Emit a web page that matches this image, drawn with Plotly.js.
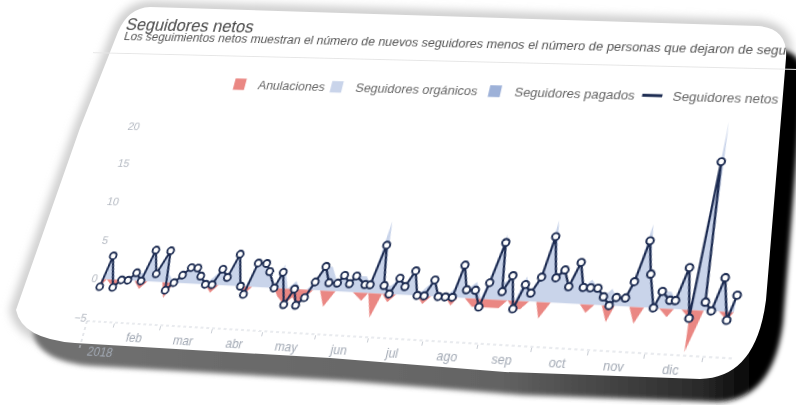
<!DOCTYPE html>
<html>
<head>
<meta charset="utf-8">
<script src="https://cdn.plot.ly/plotly-3.0.1.min.js"></script>
<style>
html,body{margin:0;padding:0;width:796px;height:405px;overflow:hidden;background:#ffffff;}
#card{position:absolute;left:0;top:0;}
#wrap{position:absolute;left:0;top:0;width:820px;height:430px;transform-origin:0 0;}
#chart{width:820px;height:430px;}
</style>
</head>
<body>
<svg id="card" width="796" height="405">
  <defs>
    <linearGradient id="sh" x1="0" y1="0" x2="796" y2="0" gradientUnits="userSpaceOnUse">
      <stop offset="0" stop-color="#717171"/>
      <stop offset="0.6" stop-color="#646464"/>
      <stop offset="0.86" stop-color="#2a2a2a"/>
      <stop offset="0.93" stop-color="#000000"/>
      <stop offset="1" stop-color="#000000"/>
    </linearGradient>
    <filter id="b1" x="-10%" y="-10%" width="125%" height="135%"><feGaussianBlur stdDeviation="2.5"/></filter>
    <filter id="b2" x="-10%" y="-10%" width="125%" height="135%"><feGaussianBlur stdDeviation="4"/></filter>
  </defs>
  <path id="halo" fill="none" stroke="#cdcdcd" stroke-width="12" filter="url(#b2)"/>
  <path id="shadow" fill="url(#sh)" filter="url(#b1)" transform="translate(17,23)"/>
  <path id="face" fill="#ffffff"/>
</svg>
<div id="wrap"><div id="chart"></div></div>
<script>
// ---- data ----
const fechas = [
'2018-01-17','2018-01-20','2018-01-25','2018-01-29','2018-02-02','2018-02-06','2018-02-10','2018-02-14','2018-02-18','2018-02-23',
'2018-02-26','2018-03-02','2018-03-06','2018-03-10','2018-03-14','2018-03-17','2018-03-21','2018-03-25','2018-03-29','2018-04-02',
'2018-04-06','2018-04-11','2018-04-14','2018-04-18','2018-04-23','2018-04-26','2018-05-01','2018-05-04','2018-05-09','2018-05-13',
'2018-05-16','2018-05-20','2018-05-24','2018-05-28','2018-06-01','2018-06-06','2018-06-09','2018-06-13','2018-06-16','2018-06-22',
'2018-06-25','2018-06-29','2018-07-03','2018-07-07','2018-07-11','2018-07-15','2018-07-19','2018-07-23','2018-07-27','2018-07-31',
'2018-08-04','2018-08-08','2018-08-12','2018-08-15','2018-08-19','2018-08-24','2018-08-28','2018-08-31','2018-09-04','2018-09-08',
'2018-09-12','2018-09-16','2018-09-20','2018-09-24','2018-09-28','2018-10-01','2018-10-06','2018-10-10','2018-10-14','2018-10-18',
'2018-10-22','2018-10-26','2018-10-30','2018-11-03','2018-11-07','2018-11-10','2018-11-15','2018-11-18','2018-11-22','2018-11-26',
'2018-12-01','2018-12-04','2018-12-09','2018-12-12','2018-12-16','2018-12-21','2018-12-22','2018-12-28','2019-01-01','2019-01-05',
'2019-01-10','2019-01-13'];

const seguidoresNetos = [
-1,3,-1,0,0,1,0,4,1,4,
-1,0,1,2,2,1,0,0,2,1,
4,0,-1,3,3,2,0,2,-2,0,
-2,-1,1,3,1,1,2,1,2,1,
1,6,1,0,2,1,3,0,0,2,
0,0,0,4,1,1,-1,2,7,1,
3,-1,2,1,3,8,3,4,2,5,
2,2,2,1,0,1,1,3,8,4,
0,2,1,1,5,-1,18,1,0,4,
-1,2];

const anulaciones = [
-1,0,-1,0,0,0,-1,0,0,0,
-2,0,0,0,0,0,0,-1,0,0,
0,0,-1,0,0,0,0,-1,-2,-1,
-2,-1,0,0,-2,0,0,0,0,-1,
0,-3,0,-1,0,0,0,0,-1,0,
0,0,-1,0,0,-1,-1,-1,-1,-1,
0,-1,-1,0,0,-2,0,0,0,0,
0,-1,0,0,-2,0,0,0,-2,0,
0,0,-1,0,0,-1,-5,0,0,0,
-1,0];

const seguidoresOrganicos = [
0,3,0,0,0,1,1,4,1,4,
1,0,1,2,2,1,0,1,2,1,
4,0,0,3,3,2,0,3,0,1,
0,0,1,3,3,1,2,1,2,2,
1,9,1,1,2,1,3,0,1,2,
0,0,1,4,1,2,0,3,8,2,
3,0,3,1,3,10,3,4,2,5,
2,3,2,1,2,1,1,3,10,4,
0,2,2,1,5,0,23,1,0,4,
0,2];

const seguidoresPagados = [
0,0,0,0,0,0,0,0,0,0,
0,0,0,0,0,0,0,0,0,0,
0,0,0,0,0,0,0,0,0,0,
0,0,0,0,0,0,0,0,0,0,
0,0,0,0,0,0,0,0,0,0,
0,0,0,0,0,0,0,0,0,0,
0,0,0,0,0,0,0,0,0,0,
0,0,0,0,0,0,0,0,0,0,
0,0,0,0,0,0,0,0,0,0,
0,0];

const etiquetasMesPos = ['2018-01-28','2018-02-15','2018-03-16 12:00','2018-04-16','2018-05-16 12:00','2018-06-16',
  '2018-07-16 12:00','2018-08-16 12:00','2018-09-16','2018-10-16 12:00','2018-11-16','2018-12-16 12:00'];
const etiquetasMes = ['<br>2018','feb','mar','abr','may','jun','jul','ago','sep','oct','nov','dic'];
const iniciosMes = ['2018-02-01','2018-03-01','2018-04-01','2018-05-01','2018-06-01','2018-07-01',
  '2018-08-01','2018-09-01','2018-10-01','2018-11-01','2018-12-01','2019-01-01'];
const nombres = ['Anulaciones','Seguidores orgánicos','Seguidores pagados','Seguidores netos'];
const titulo = 'Seguidores netos';
const subtitulo = 'Los seguimientos netos muestran el número de nuevos seguidores menos el número de personas que dejaron de segu';

// ---- styling ----
const cRojo = '#ea8783', cOrg = '#c9d4ea', cPag = '#9db1d8', cNeto = '#1d2c52';
const FW = 820, FH = 430, L = 75, T = 130, PW = 640, PH = 225;

const traces = [
  {type:'scatter', x:fechas, y:anulaciones, mode:'lines', line:{width:0, color:cRojo}, fill:'tozeroy', fillcolor:cRojo, showlegend:false, hoverinfo:'skip'},
  {type:'scatter', x:fechas, y:seguidoresOrganicos, mode:'lines', line:{width:0, color:cOrg}, fill:'tozeroy', fillcolor:cOrg, showlegend:false, hoverinfo:'skip'},
  {type:'scatter', x:fechas, y:seguidoresPagados, mode:'lines', line:{width:0, color:cPag}, fill:'tozeroy', fillcolor:cPag, showlegend:false, hoverinfo:'skip'},
  {type:'scatter', x:fechas, y:seguidoresNetos, mode:'lines', line:{width:2.2, color:cNeto}, showlegend:false, hoverinfo:'skip'},
  {type:'scatter', x:fechas, y:seguidoresNetos, mode:'markers', marker:{size:7, color:'#ffffff', line:{width:1.9, color:cNeto}}, showlegend:false, cliponaxis:false, hoverinfo:'skip'},
  // legend entries
  {type:'bar', x:[null], y:[null], name:nombres[0], marker:{color:cRojo}, legendwidth:58},
  {type:'bar', x:[null], y:[null], name:nombres[1], marker:{color:cOrg}, legendwidth:118},
  {type:'bar', x:[null], y:[null], name:nombres[2], marker:{color:cPag}, legendwidth:111},
  {type:'scatter', mode:'markers', x:[null], y:[null], name:nombres[3], legendwidth:108,
   marker:{symbol:'line-ew-open', size:14, color:cNeto, line:{width:3, color:cNeto}}}
];

const layout = {
  width: FW, height: FH,
  margin: {l:L, r:FW-L-PW, t:T, b:FH-T-PH, pad:0},
  paper_bgcolor:'rgba(0,0,0,0)', plot_bgcolor:'rgba(0,0,0,0)',
  font:{family:'"Liberation Sans", Arial, sans-serif', color:'#555'},
  title:{text:titulo, xref:'container', x:28/FW, xanchor:'left', yref:'container', y:1-45/FH, yanchor:'middle',
         font:{size:18, color:'#474747'}},
  showlegend:true,
  legend:{orientation:'h', x:0.116, xanchor:'left', y:1.105, yanchor:'middle', traceorder:'normal',
          font:{size:13, color:'#666'}, bgcolor:'rgba(0,0,0,0)'},
  xaxis:{type:'date', range:['2018-01-15','2019-01-17'], tickmode:'array', tickvals:etiquetasMesPos, ticktext:etiquetasMes,
         ticks:'', showgrid:false, zeroline:false, showline:false, automargin:false, ticklabelstandoff:5,
         tickfont:{size:12, color:'#a3aab5'},
         minor:{tickmode:'array', tickvals:iniciosMes, ticks:'outside', ticklen:4, tickwidth:1, tickcolor:'#c9cdd4', showgrid:false}},
  yaxis:{range:[-5.4, 23], tickmode:'linear', tick0:0, dtick:5, ticks:'', showgrid:false, zeroline:false, showline:false,
         automargin:false, tickfont:{size:11.5, color:'#b3b8c1'}},
  shapes:[
    {type:'line', xref:'paper', yref:'paper', x0:0, x1:1, y0:0, y1:0, line:{color:'#d3d7de', width:1, dash:'dot'}},
    {type:'line', xref:'paper', yref:'paper', x0:0, x1:0, y0:0, y1:-0.12, line:{color:'#c9cdd4', width:1, dash:'dot'}},
    {type:'line', xref:'paper', yref:'paper', x0:-L/PW, x1:(FW-L)/PW, y0:1+(T-76.5)/PH, y1:1+(T-76.5)/PH, line:{color:'#e6e6e6', width:1}}
  ],
  annotations:[
    {xref:'paper', yref:'paper', x:(27-L)/PW, y:1+(T-58)/PH, xanchor:'left', yanchor:'middle', showarrow:false,
     text:subtitulo, font:{size:12.9, color:'#555555'}}
  ]
};

Plotly.newPlot('chart', traces, layout, {staticPlot:true, displayModeBar:false});

// ---- perspective of the photographed card ----
function homography(src, dst){
  const A=[], B=[];
  for(let i=0;i<4;i++){
    const u=src[i][0], v=src[i][1], x=dst[i][0], y=dst[i][1];
    A.push([u,v,1,0,0,0,-u*x,-v*x]); B.push(x);
    A.push([0,0,0,u,v,1,-u*y,-v*y]); B.push(y);
  }
  const n=8;
  for(let c=0;c<n;c++){
    let p=c;
    for(let r=c+1;r<n;r++) if(Math.abs(A[r][c])>Math.abs(A[p][c])) p=r;
    let tmp=A[c]; A[c]=A[p]; A[p]=tmp; tmp=B[c]; B[c]=B[p]; B[p]=tmp;
    for(let r=0;r<n;r++){
      if(r===c) continue;
      const f=A[r][c]/A[c][c];
      for(let k=c;k<n;k++) A[r][k]-=f*A[c][k];
      B[r]-=f*B[c];
    }
  }
  return B.map((b,i)=>b/A[i][i]);
}
const src = [[L,T],[L+PW,T],[L,T+PH],[L+PW,T+PH]];
const dst = [[147,104],[777,123],[87,321],[733,358.5]];
const h = homography(src, dst);
document.getElementById('wrap').style.transform =
  'matrix3d('+[h[0],h[3],0,h[6], h[1],h[4],0,h[7], 0,0,1,0, h[2],h[5],0,1].join(',')+')';

const cardPath = 'M150,7 L758,26 Q788,28 786,58 L766,300 Q756,378 700,379 L505,372 L330,358 L75,343 Q22,339 16,310 L80,128 L118,32 Q128,8 150,7 Z';
['halo','shadow','face'].forEach(id=>document.getElementById(id).setAttribute('d', cardPath));
</script>
</body>
</html>
